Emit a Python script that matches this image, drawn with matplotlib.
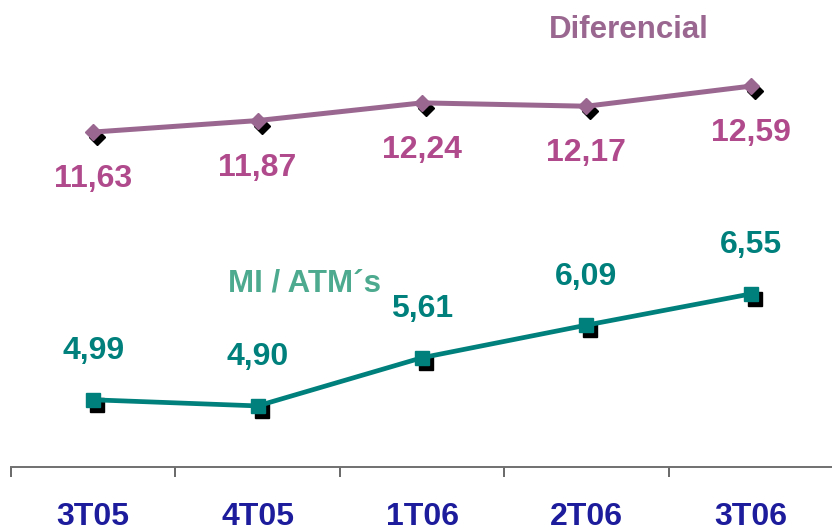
import matplotlib
matplotlib.use("Agg")
import matplotlib.pyplot as plt
from matplotlib.transforms import offset_copy

plt.rcParams['font.family'] = ['Liberation Sans', 'DejaVu Sans']

quarters = ["3T05", "4T05", "1T06", "2T06", "3T06"]
diferencial = [11.63, 11.87, 12.24, 12.17, 12.59]
mi_atms = [4.99, 4.90, 5.61, 6.09, 6.55]

def fmt(v):
    return f"{v:.2f}".replace(".", ",")

DPI = 100
fig = plt.figure(figsize=(8.32, 5.31), dpi=DPI)
ax = fig.add_axes([11 / 832, 64 / 531, 822 / 832, 467 / 531])
ax2 = ax.twinx()

x = list(range(len(quarters)))

# Lower series: MI / ATM's on the primary axis
ax.set_ylim(4.0, 10.88)
shadow = offset_copy(ax.transData, fig=fig, x=4, y=-5, units='dots')
ax.plot(x, mi_atms, linestyle='none', marker='s', ms=10.5, color='black',
        transform=shadow, zorder=1)
ax.plot(x, mi_atms, color='#00807C', lw=3.4, marker='s', ms=10.5,
        markerfacecolor='#00807C', markeredgecolor='#00807C', zorder=3)
for xi, v in zip(x, mi_atms):
    ax.annotate(fmt(v), (xi, v), xytext=(0, 35), textcoords='offset points',
                ha='center', va='center', fontsize=23, fontweight='bold',
                color='#00807C')

# Upper series: Diferencial on the secondary axis
ax2.set_ylim(4.63, 14.39)
shadow2 = offset_copy(ax2.transData, fig=fig, x=4, y=-5, units='dots')
ax2.plot(x, diferencial, linestyle='none', marker='D', ms=8.5, color='black',
         transform=shadow2, zorder=1)
ax2.plot(x, diferencial, color='#9A6790', lw=3.6, marker='D', ms=8.5,
         markerfacecolor='#9A6790', markeredgecolor='#9A6790', zorder=3)
for xi, v in zip(x, diferencial):
    ax2.annotate(fmt(v), (xi, v), xytext=(0, -34), textcoords='offset points',
                 ha='center', va='center', fontsize=23, fontweight='bold',
                 color='#B04A8C')

# Series titles
fig.text(629 / 832, 1 - 30 / 531, "Diferencial", ha='center', va='center',
         fontsize=22.5, fontweight='bold', color='#9A6790')
fig.text(305 / 832, 1 - 283 / 531, "MI / ATM\u00b4s", ha='center', va='center',
         fontsize=22.5, fontweight='bold', color='#4DAA8E')

# Axes styling: only the category axis is visible
ax.set_xlim(-0.5, 4.5)
for a in (ax, ax2):
    for side in ('top', 'right', 'left'):
        a.spines[side].set_visible(False)
    a.set_yticks([])
ax2.spines['bottom'].set_visible(False)
ax.spines['bottom'].set_color('#707070')
ax.spines['bottom'].set_linewidth(1.4)

ax.set_xticks(x)
ax.set_xticklabels(quarters, fontsize=23, fontweight='bold', color='#1C1C9C')
ax.tick_params(axis='x', which='major', length=0, pad=25)
ax.set_xticks([i - 0.5 for i in range(len(quarters) + 1)], minor=True)
ax.tick_params(axis='x', which='minor', length=7.5, width=1.1,
               color='#404040', direction='out')
ax.patch.set_visible(False)
ax2.patch.set_visible(False)

fig.savefig("out.png", dpi=DPI)
